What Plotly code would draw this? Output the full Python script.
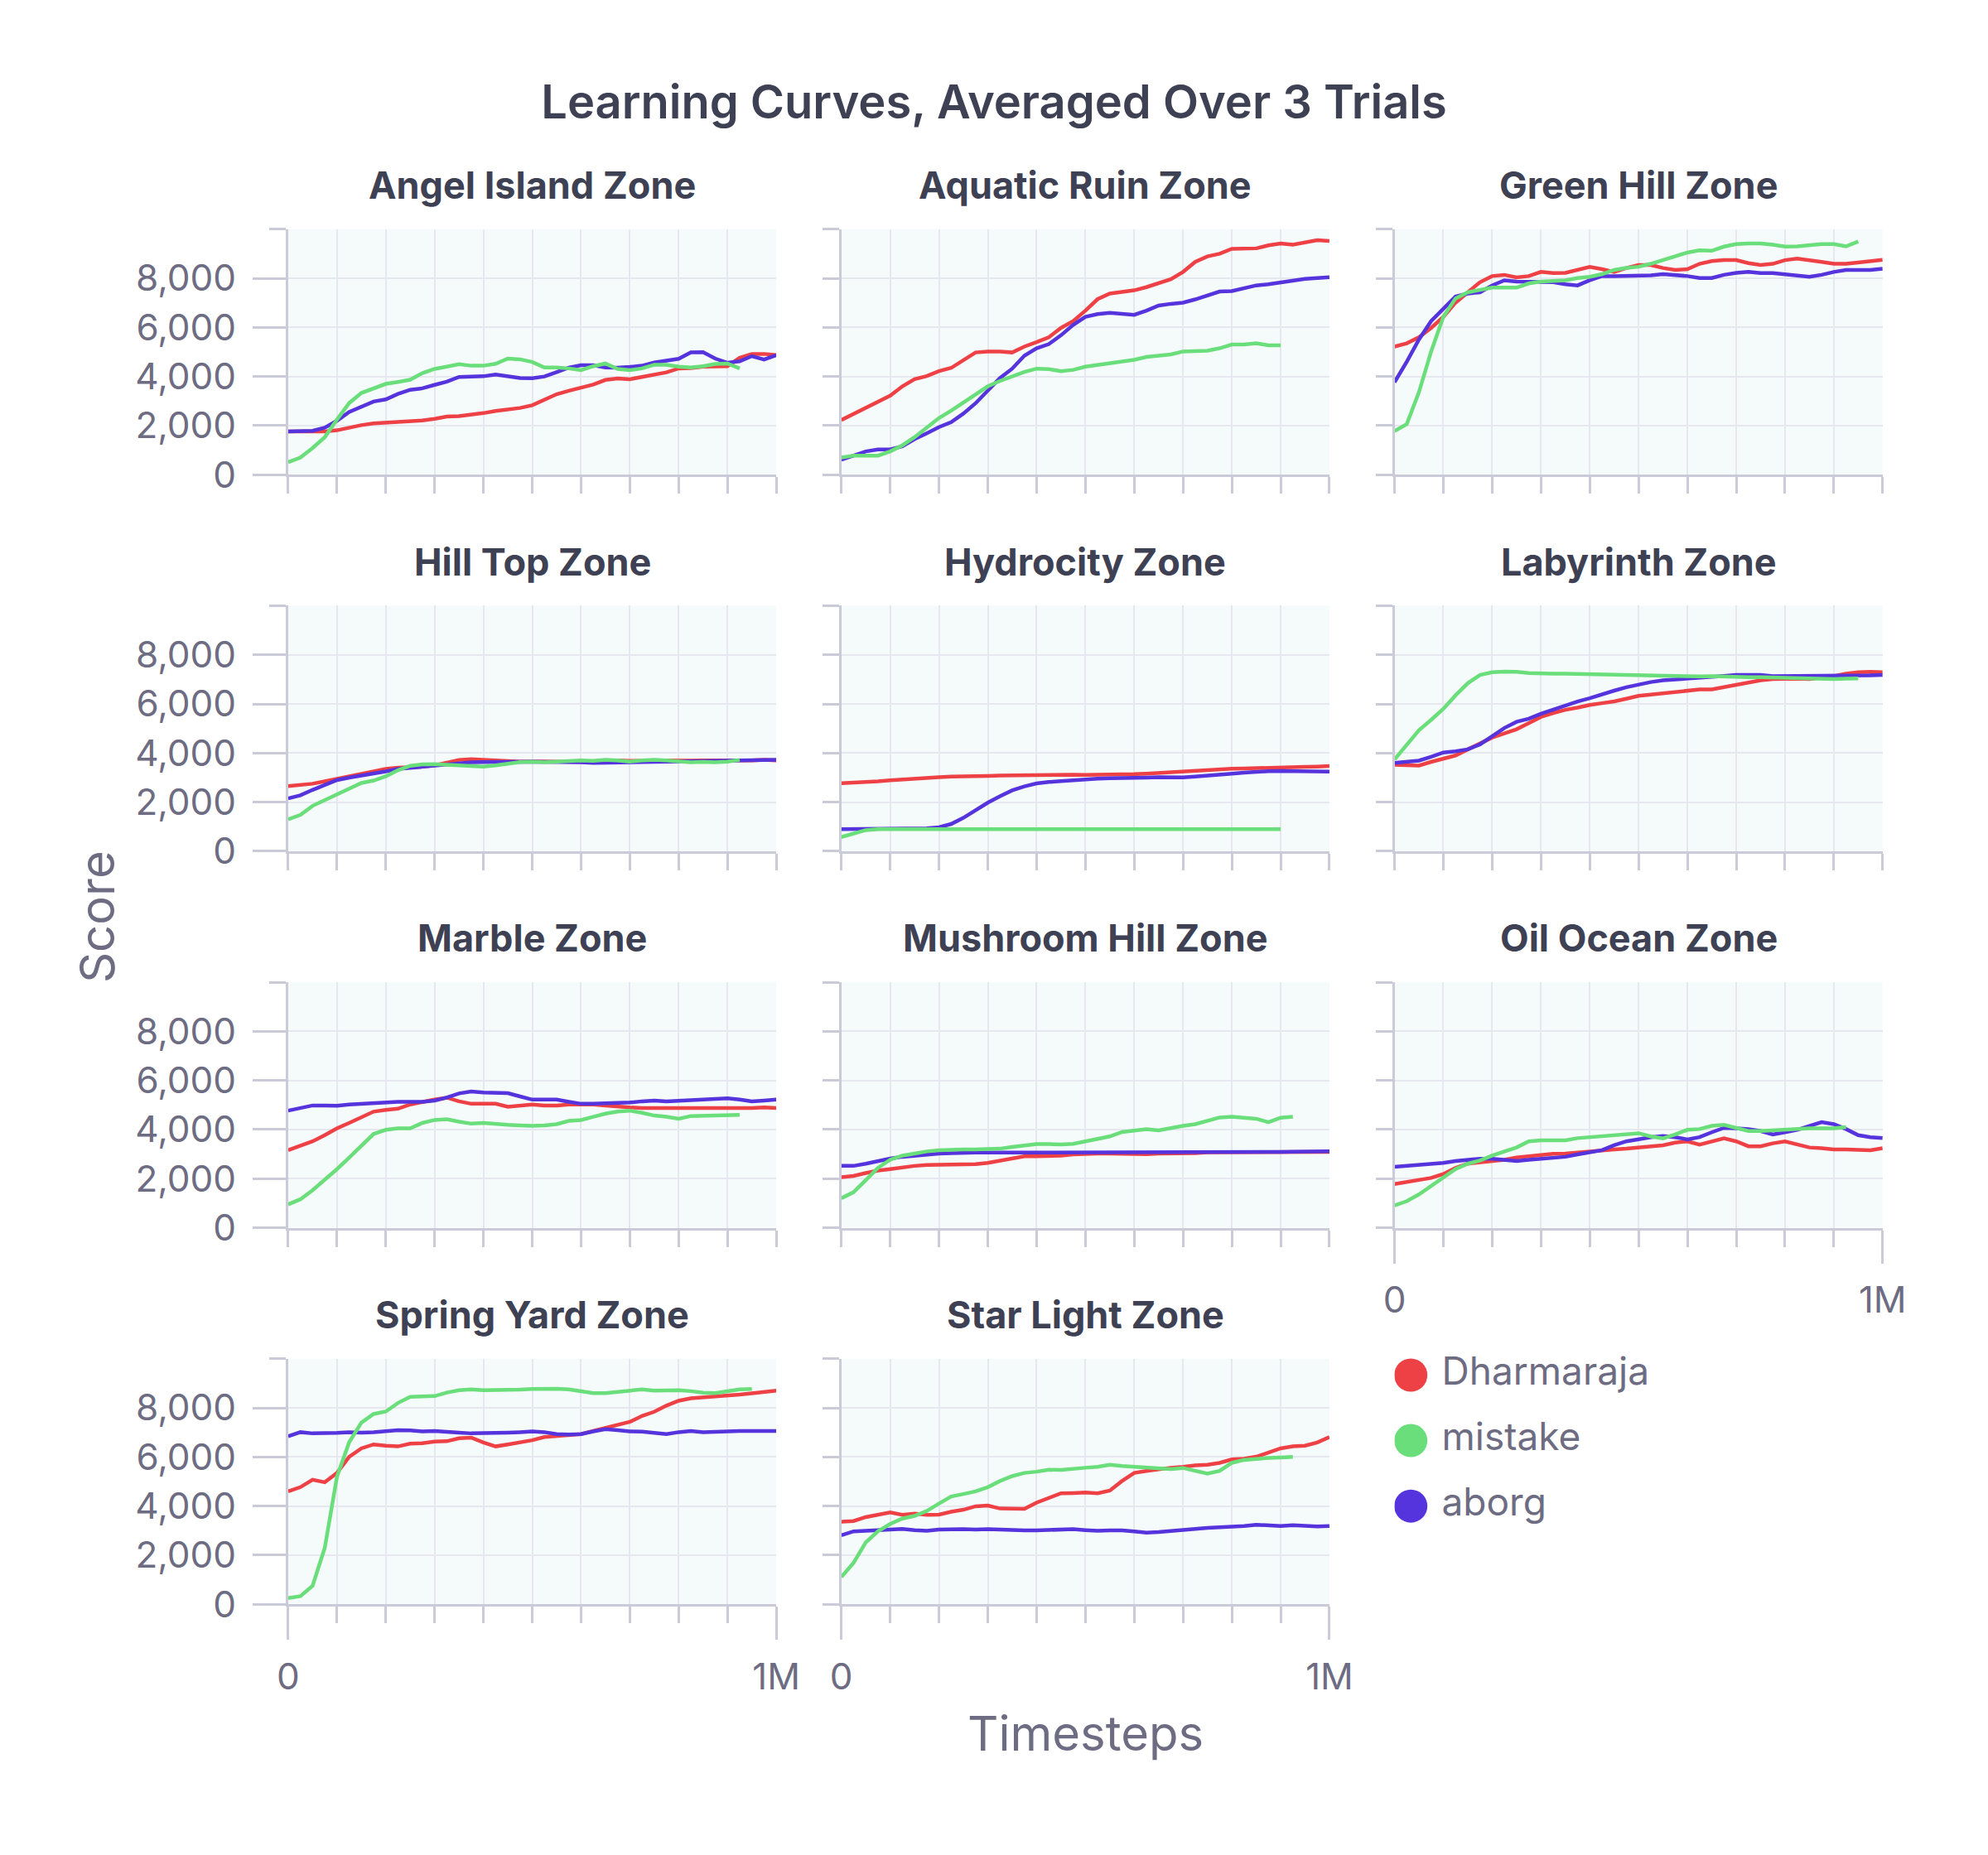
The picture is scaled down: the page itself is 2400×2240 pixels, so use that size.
import plotly.graph_objects as go

# ---------------- data ----------------
STEPS = list(range(0, 1_000_001, 25_000))  # x grid, 25k timesteps apart
X_TICK_VALUES = [0, 1_000_000]
X_TICK_LABELS = ["0", "1M"]
Y_TICK_VALUES = [0, 2000, 4000, 6000, 8000]
Y_MAX = 10000

SERIES = ["Dharmaraja", "mistake", "aborg"]
COLORS = {"Dharmaraja": "#ee4146", "mistake": "#6ade7a", "aborg": "#5533dd"}

ZONES = ["Angel Island Zone", "Aquatic Ruin Zone", "Green Hill Zone",
         "Hill Top Zone", "Hydrocity Zone", "Labyrinth Zone",
         "Marble Zone", "Mushroom Hill Zone", "Oil Ocean Zone",
         "Spring Yard Zone", "Star Light Zone"]

ANGEL_DHARMARAJA = [1760, 1760, 1760, 1760, 1810, 1920, 2020, 2090, 2120, 2160, 2170, 2210, 2280, 2370, 2390, 2440, 2510, 2600, 2660, 2720, 2830, 3060, 3280, 3420, 3530, 3670, 3860, 3920, 3890, 3980, 4070, 4170, 4330, 4340, 4400, 4420, 4420, 4760, 4920, 4920, 4870]
ANGEL_MISTAKE = [510, 700, 1090, 1530, 2250, 2920, 3330, 3530, 3700, 3780, 3870, 4140, 4310, 4400, 4500, 4440, 4440, 4520, 4730, 4700, 4590, 4370, 4370, 4330, 4260, 4420, 4530, 4310, 4260, 4330, 4480, 4480, 4400, 4370, 4420, 4510, 4530, 4330]
ANGEL_ABORG = [1760, 1780, 1790, 1920, 2200, 2560, 2760, 2980, 3070, 3290, 3460, 3520, 3660, 3790, 3980, 3990, 4010, 4080, 4000, 3940, 3930, 4000, 4180, 4360, 4460, 4460, 4370, 4360, 4390, 4440, 4570, 4640, 4720, 4980, 4990, 4730, 4560, 4620, 4830, 4690, 4870]

AQUATIC_DHARMARAJA = [2230, 2470, 2720, 2970, 3220, 3600, 3890, 4020, 4220, 4350, 4680, 4980, 5020, 5020, 4980, 5220, 5400, 5600, 5980, 6260, 6680, 7150, 7380, 7430, 7510, 7640, 7790, 7960, 8260, 8670, 8890, 9000, 9200, 9220, 9220, 9340, 9420, 9370, 9470, 9550, 9520]
AQUATIC_MISTAKE = [700, 780, 780, 780, 950, 1200, 1530, 1940, 2310, 2610, 2940, 3270, 3600, 3820, 4020, 4190, 4320, 4300, 4220, 4270, 4400, 4470, 4520, 4600, 4680, 4800, 4850, 4900, 5020, 5020, 5050, 5150, 5300, 5300, 5350, 5270, 5270]
AQUATIC_ABORG = [610, 780, 950, 1030, 1030, 1160, 1450, 1690, 1940, 2140, 2490, 2910, 3440, 3940, 4320, 4850, 5150, 5320, 5680, 6100, 6430, 6540, 6590, 6560, 6510, 6680, 6890, 6960, 7010, 7140, 7310, 7460, 7480, 7590, 7710, 7760, 7840, 7920, 7980, 8010, 8040]

GREEN_HILL_DHARMARAJA = [5220, 5350, 5600, 5980, 6430, 7010, 7430, 7840, 8090, 8140, 8040, 8090, 8260, 8210, 8220, 8340, 8460, 8370, 8260, 8420, 8540, 8540, 8420, 8340, 8370, 8590, 8700, 8740, 8740, 8620, 8540, 8590, 8740, 8800, 8750, 8670, 8590, 8590, 8640, 8700, 8750]
GREEN_HILL_MISTAKE = [1780, 2060, 3360, 5020, 6430, 7180, 7430, 7540, 7620, 7620, 7620, 7790, 7870, 7890, 7920, 8010, 8060, 8170, 8340, 8420, 8470, 8590, 8750, 8920, 9050, 9140, 9120, 9290, 9390, 9420, 9420, 9370, 9290, 9300, 9340, 9390, 9390, 9300, 9500]
GREEN_HILL_ABORG = [3770, 4600, 5510, 6260, 6760, 7260, 7380, 7430, 7710, 7920, 7870, 7870, 7870, 7840, 7760, 7710, 7920, 8090, 8090, 8090, 8090, 8120, 8170, 8140, 8090, 8010, 8010, 8140, 8220, 8260, 8210, 8210, 8170, 8120, 8060, 8140, 8260, 8340, 8340, 8340, 8390]

HILL_TOP_DHARMARAJA = [2650, 2700, 2750, 2850, 2950, 3050, 3150, 3250, 3350, 3400, 3420, 3450, 3500, 3600, 3720, 3750, 3720, 3680, 3650, 3650, 3660, 3650, 3640, 3650, 3640, 3650, 3680, 3700, 3680, 3670, 3680, 3700, 3680, 3690, 3700, 3700, 3690, 3680, 3700, 3720, 3700]
HILL_TOP_MISTAKE = [1300, 1480, 1850, 2080, 2330, 2580, 2780, 2880, 3050, 3300, 3480, 3540, 3550, 3520, 3500, 3470, 3450, 3500, 3580, 3630, 3650, 3620, 3650, 3680, 3700, 3680, 3720, 3700, 3650, 3700, 3720, 3700, 3650, 3620, 3640, 3620, 3650, 3720]
HILL_TOP_ABORG = [2150, 2280, 2500, 2720, 2900, 3000, 3080, 3150, 3250, 3350, 3400, 3430, 3480, 3550, 3600, 3620, 3630, 3640, 3650, 3640, 3650, 3640, 3640, 3620, 3620, 3600, 3600, 3610, 3620, 3630, 3640, 3650, 3660, 3660, 3670, 3680, 3690, 3700, 3700, 3710, 3720]

HYDROCITY_DHARMARAJA = [2770, 2790, 2810, 2850, 2890, 2930, 2970, 3000, 3020, 3040, 3060, 3070, 3070, 3080, 3090, 3100, 3110, 3120, 3140, 3120, 3110, 3110, 3110, 3120, 3140, 3160, 3190, 3220, 3260, 3280, 3310, 3330, 3360, 3370, 3390, 3400, 3410, 3420, 3440, 3450, 3470]
HYDROCITY_MISTAKE = [580, 730, 860, 900, 900, 900, 900, 900, 900, 900, 900, 900, 900, 900, 900, 900, 900, 900, 900, 900, 900, 900, 900, 900, 900, 900, 900, 900, 900, 900, 900, 900, 900, 900, 900, 900, 900]
HYDROCITY_ABORG = [900, 900, 900, 900, 900, 900, 910, 930, 980, 1110, 1360, 1690, 1980, 2240, 2480, 2640, 2760, 2820, 2860, 2910, 2940, 2960, 2970, 2970, 2970, 3000, 3020, 3010, 3010, 3040, 3070, 3110, 3160, 3200, 3240, 3260, 3270, 3270, 3260, 3250, 3240]

LABYRINTH_DHARMARAJA = [3520, 3520, 3490, 3640, 3770, 3900, 4150, 4390, 4630, 4800, 4970, 5220, 5470, 5630, 5760, 5850, 5960, 6030, 6100, 6210, 6330, 6380, 6430, 6510, 6560, 6590, 6590, 6680, 6790, 6890, 6960, 7010, 7030, 7030, 7010, 7060, 7130, 7230, 7290, 7310, 7290]
LABYRINTH_MISTAKE = [3740, 4350, 4930, 5350, 5800, 6350, 6840, 7180, 7290, 7320, 7310, 7260, 7230, 7230, 7230, 7220, 7210, 7200, 7190, 7170, 7140, 7130, 7130, 7130, 7130, 7120, 7130, 7110, 7090, 7090, 7090, 7080, 7060, 7050, 7040, 7010, 7010, 7030, 7040]
LABYRINTH_ABORG = [3600, 3650, 3690, 3850, 4020, 4070, 4150, 4350, 4680, 5020, 5270, 5400, 5600, 5760, 5960, 6100, 6230, 6400, 6540, 6680, 6790, 6890, 6960, 6990, 7030, 7060, 7090, 7140, 7180, 7180, 7180, 7130, 7130, 7140, 7140, 7140, 7140, 7140, 7150, 7160, 7180]

MARBLE_DHARMARAJA = [3160, 3320, 3520, 3770, 4050, 4270, 4520, 4730, 4800, 4850, 5020, 5130, 5220, 5300, 5150, 5050, 5050, 5050, 4930, 4970, 5020, 4980, 4980, 5020, 5020, 5020, 4980, 4930, 4900, 4880, 4880, 4880, 4880, 4870, 4850, 4850, 4850, 4860, 4880, 4900, 4880]
MARBLE_MISTAKE = [950, 1160, 1530, 1940, 2390, 2860, 3360, 3820, 3990, 4050, 4050, 4270, 4390, 4420, 4320, 4240, 4270, 4220, 4190, 4170, 4150, 4170, 4220, 4350, 4390, 4520, 4650, 4730, 4770, 4680, 4570, 4520, 4440, 4550, 4570, 4570, 4580, 4600]
MARBLE_ABORG = [4770, 4880, 4980, 4980, 4970, 5020, 5050, 5070, 5100, 5130, 5130, 5130, 5180, 5300, 5470, 5550, 5510, 5480, 5480, 5350, 5220, 5220, 5220, 5130, 5050, 5050, 5070, 5070, 5100, 5150, 5180, 5150, 5180, 5180, 5230, 5270, 5270, 5220, 5150, 5180, 5220]

MUSHROOM_DHARMARAJA = [2060, 2110, 2230, 2330, 2390, 2460, 2520, 2560, 2570, 2570, 2570, 2590, 2640, 2720, 2810, 2910, 2910, 2910, 2940, 2990, 3020, 3020, 3020, 3010, 2990, 3000, 3020, 3020, 3020, 3040, 3070, 3070, 3060, 3060, 3070, 3070, 3070, 3080, 3080, 3090, 3090]
MUSHROOM_MISTAKE = [1200, 1450, 1940, 2440, 2770, 2940, 3020, 3110, 3160, 3190, 3190, 3190, 3190, 3220, 3290, 3360, 3410, 3410, 3390, 3420, 3520, 3600, 3720, 3900, 3970, 4020, 3970, 4070, 4150, 4220, 4350, 4490, 4520, 4490, 4440, 4300, 4480, 4520]
MUSHROOM_ABORG = [2520, 2520, 2610, 2720, 2820, 2890, 2940, 2990, 3020, 3040, 3060, 3060, 3060, 3060, 3060, 3060, 3060, 3060, 3060, 3060, 3060, 3070, 3090, 3080, 3070, 3060, 3060, 3060, 3070, 3080, 3090, 3090, 3090, 3080, 3070, 3080, 3090, 3100, 3110, 3110, 3110]

OIL_OCEAN_DHARMARAJA = [1780, 1860, 1940, 2030, 2190, 2440, 2610, 2660, 2720, 2770, 2860, 2910, 2970, 3010, 3020, 3070, 3110, 3160, 3190, 3220, 3260, 3290, 3360, 3470, 3520, 3390, 3520, 3640, 3520, 3320, 3320, 3440, 3520, 3390, 3270, 3240, 3190, 3190, 3160, 3160, 3240]
OIL_OCEAN_MISTAKE = [910, 1080, 1360, 1690, 2030, 2390, 2610, 2740, 2940, 3110, 3270, 3520, 3560, 3560, 3560, 3650, 3690, 3720, 3770, 3800, 3850, 3720, 3640, 3800, 3990, 4020, 4150, 4190, 4050, 3940, 3940, 3970, 3990, 4020, 4050, 4050, 4050, 4100]
OIL_OCEAN_ABORG = [2480, 2520, 2560, 2610, 2640, 2720, 2770, 2810, 2810, 2770, 2720, 2770, 2820, 2860, 2890, 2990, 3070, 3160, 3360, 3520, 3600, 3690, 3740, 3690, 3600, 3690, 3890, 4070, 4050, 4020, 3940, 3800, 3890, 3990, 4150, 4300, 4220, 4020, 3770, 3690, 3650]

SPRING_YARD_DHARMARAJA = [4600, 4770, 5070, 4970, 5350, 6010, 6350, 6510, 6460, 6430, 6540, 6560, 6630, 6640, 6760, 6790, 6590, 6430, 6510, 6590, 6680, 6810, 6840, 6880, 6930, 7060, 7180, 7310, 7430, 7670, 7840, 8090, 8290, 8390, 8420, 8470, 8510, 8540, 8590, 8640, 8700]
SPRING_YARD_MISTAKE = [250, 330, 750, 2300, 5200, 6600, 7400, 7750, 7850, 8200, 8450, 8480, 8480, 8620, 8720, 8750, 8720, 8730, 8720, 8740, 8770, 8780, 8780, 8750, 8680, 8600, 8600, 8650, 8730, 8750, 8700, 8700, 8720, 8680, 8620, 8600, 8680, 8750, 8770]
SPRING_YARD_ABORG = [6840, 7010, 6960, 6960, 6980, 7010, 6990, 7010, 7060, 7090, 7080, 7040, 7060, 7040, 6990, 6960, 6960, 6960, 6990, 7010, 7040, 7010, 6930, 6910, 6930, 7040, 7130, 7090, 7040, 7030, 6980, 6930, 7010, 7060, 7010, 7010, 7040, 7060, 7060, 7060, 7060]

STAR_LIGHT_DHARMARAJA = [3360, 3390, 3550, 3650, 3740, 3640, 3690, 3640, 3650, 3770, 3850, 3990, 4020, 3900, 3900, 3890, 4140, 4350, 4520, 4530, 4550, 4520, 4630, 5020, 5350, 5430, 5510, 5560, 5600, 5660, 5680, 5760, 5900, 5930, 6010, 6180, 6350, 6430, 6460, 6590, 6810]
STAR_LIGHT_MISTAKE = [1110, 1690, 2520, 2970, 3270, 3490, 3600, 3800, 4100, 4390, 4490, 4600, 4770, 5020, 5220, 5350, 5400, 5480, 5470, 5500, 5560, 5600, 5680, 5630, 5600, 5560, 5550, 5510, 5550, 5430, 5320, 5430, 5760, 5880, 5930, 5960, 5980, 6000]
STAR_LIGHT_ABORG = [2810, 2970, 2990, 3010, 3020, 3070, 3020, 2990, 3040, 3060, 3060, 3040, 3060, 3040, 3010, 3010, 3010, 3020, 3060, 3060, 3020, 2990, 3010, 3010, 2970, 2920, 2940, 2990, 3040, 3070, 3110, 3140, 3160, 3190, 3240, 3220, 3190, 3220, 3190, 3170, 3190]

ZONE_DATA = {
    "Angel Island Zone": (ANGEL_DHARMARAJA, ANGEL_MISTAKE, ANGEL_ABORG),
    "Aquatic Ruin Zone": (AQUATIC_DHARMARAJA, AQUATIC_MISTAKE, AQUATIC_ABORG),
    "Green Hill Zone": (GREEN_HILL_DHARMARAJA, GREEN_HILL_MISTAKE, GREEN_HILL_ABORG),
    "Hill Top Zone": (HILL_TOP_DHARMARAJA, HILL_TOP_MISTAKE, HILL_TOP_ABORG),
    "Hydrocity Zone": (HYDROCITY_DHARMARAJA, HYDROCITY_MISTAKE, HYDROCITY_ABORG),
    "Labyrinth Zone": (LABYRINTH_DHARMARAJA, LABYRINTH_MISTAKE, LABYRINTH_ABORG),
    "Marble Zone": (MARBLE_DHARMARAJA, MARBLE_MISTAKE, MARBLE_ABORG),
    "Mushroom Hill Zone": (MUSHROOM_DHARMARAJA, MUSHROOM_MISTAKE, MUSHROOM_ABORG),
    "Oil Ocean Zone": (OIL_OCEAN_DHARMARAJA, OIL_OCEAN_MISTAKE, OIL_OCEAN_ABORG),
    "Spring Yard Zone": (SPRING_YARD_DHARMARAJA, SPRING_YARD_MISTAKE, SPRING_YARD_ABORG),
    "Star Light Zone": (STAR_LIGHT_DHARMARAJA, STAR_LIGHT_MISTAKE, STAR_LIGHT_ABORG),
}

# ---------------- layout constants (pixels) ----------------
W, H = 2400, 2240
COL_LEFT = [340, 1020, 1700]
ROW_TOP = [280, 740, 1200, 1660]
PW, PH = 600, 300

FONT = "Inter"
TITLE_COLOR = "#3e4153"
TICK_COLOR = "#6d6c82"
AXIS_COLOR = "#cbcad8"
GRID_COLOR = "#e7e7ef"
PLOT_BG = "#f5fbfb"

fig = go.Figure()


def px_x(v):
    return v / W


def px_y(v):
    return 1 - v / H


draw_order = [0, 2, 1]  # Dharmaraja, aborg, mistake (mistake drawn on top)
annotations = []
shapes = []
n = len(ZONES)
for k, zone in enumerate(ZONES):
    r, c = divmod(k, 3)
    idx = k + 1
    xa = "x" if idx == 1 else f"x{idx}"
    ya = "y" if idx == 1 else f"y{idx}"
    values = ZONE_DATA[zone]
    for si in draw_order:
        name = SERIES[si]
        ys = values[si]
        fig.add_trace(go.Scatter(
            x=STEPS[:len(ys)], y=ys, mode="lines", name=name,
            line=dict(color=COLORS[name], width=4.5),
            xaxis=xa, yaxis=ya, showlegend=False,
        ))
    bottom = (k + 3) >= n   # lowest panel in its column
    left = c == 0
    xkey = "xaxis" if idx == 1 else f"xaxis{idx}"
    ykey = "yaxis" if idx == 1 else f"yaxis{idx}"
    x0 = COL_LEFT[c]
    y0 = ROW_TOP[r]
    fig.layout[xkey] = dict(
        domain=[px_x(x0), px_x(x0 + PW)], anchor=ya, range=[0, STEPS[-1]],
        tickmode="array", tickvals=X_TICK_VALUES, ticktext=X_TICK_LABELS,
        showticklabels=bottom, ticks="outside", ticklen=40 if bottom else 20,
        tickwidth=3, tickcolor=AXIS_COLOR, ticklabelstandoff=7,
        showline=True, linecolor=AXIS_COLOR, linewidth=3,
        showgrid=True, gridcolor=GRID_COLOR, gridwidth=2, zeroline=False,
        tickfont=dict(family=FONT, size=44, color=TICK_COLOR),
        minor=dict(tickmode="array", tickvals=STEPS[4:-1:4], ticks="outside",
                   ticklen=20, tickwidth=3, tickcolor=AXIS_COLOR,
                   showgrid=True, gridcolor=GRID_COLOR, gridwidth=2),
        fixedrange=True,
    )
    fig.layout[ykey] = dict(
        domain=[px_y(y0 + PH), px_y(y0)], anchor=xa, range=[0, Y_MAX],
        tickmode="array", tickvals=Y_TICK_VALUES, tickformat=",",
        showticklabels=left, ticks="outside", ticklen=40 if left else 20,
        tickwidth=3, tickcolor=AXIS_COLOR, ticklabelstandoff=11,
        showline=True, linecolor=AXIS_COLOR, linewidth=3,
        showgrid=True, gridcolor=GRID_COLOR, gridwidth=2, zeroline=False,
        tickfont=dict(family=FONT, size=44, color=TICK_COLOR),
        minor=dict(tickmode="array", tickvals=[Y_MAX], ticks="outside",
                   ticklen=20, tickwidth=3, tickcolor=AXIS_COLOR,
                   showgrid=True, gridcolor=GRID_COLOR, gridwidth=2),
        fixedrange=True,
    )
    shapes.append(dict(
        type="rect", xref=f"{xa} domain", yref=f"{ya} domain",
        x0=0, x1=1, y0=0, y1=1, fillcolor=PLOT_BG, line=dict(width=0), layer="below",
    ))
    annotations.append(dict(
        text=zone, xref="paper", yref="paper",
        x=px_x(x0 + PW / 2), y=px_y(y0 - 54), xanchor="center", yanchor="middle",
        showarrow=False, font=dict(family=FONT, size=45, color=TITLE_COLOR, weight=700),
    ))

# custom legend with large circular markers
LEG = 12
fig.add_trace(go.Scatter(
    x=[0] * len(SERIES), y=SERIES, mode="markers",
    marker=dict(size=40, color=[COLORS[s] for s in SERIES]),
    xaxis=f"x{LEG}", yaxis=f"y{LEG}", showlegend=False, hoverinfo="skip",
))
fig.add_trace(go.Scatter(
    x=[1.9] * len(SERIES), y=SERIES, mode="text", text=SERIES,
    textposition="middle right", cliponaxis=False,
    textfont=dict(family=FONT, size=46, color=TICK_COLOR),
    xaxis=f"x{LEG}", yaxis=f"y{LEG}", showlegend=False, hoverinfo="skip",
))
fig.layout[f"xaxis{LEG}"] = dict(domain=[px_x(1700), px_x(1760)], range=[-1, 2],
                                  visible=False, anchor=f"y{LEG}", fixedrange=True)
fig.layout[f"yaxis{LEG}"] = dict(domain=[px_y(1880), px_y(1640)], type="category",
                                  range=[len(SERIES) - 0.5, -0.5], visible=False,
                                  anchor=f"x{LEG}", fixedrange=True)

annotations.append(dict(
    text="Score", xref="paper", yref="paper", x=px_x(105), y=px_y(1120),
    xanchor="center", yanchor="middle", textangle=-90, showarrow=False,
    font=dict(family=FONT, size=58, color=TICK_COLOR),
))
annotations.append(dict(
    text="Timesteps", xref="paper", yref="paper", x=px_x(1320), y=px_y(2118),
    xanchor="center", yanchor="middle", showarrow=False,
    font=dict(family=FONT, size=58, color=TICK_COLOR),
))

fig.update_layout(
    width=W, height=H, margin=dict(l=0, r=0, t=0, b=0),
    paper_bgcolor="white", plot_bgcolor="rgba(0,0,0,0)", showlegend=False,
    title=dict(text="Learning Curves, Averaged Over 3 Trials", x=0.5, y=px_y(123),
               xanchor="center", yanchor="middle",
               font=dict(family=FONT, size=56, color=TITLE_COLOR, weight=600)),
    annotations=annotations,
    shapes=shapes,
    font=dict(family=FONT, color=TICK_COLOR),
)

fig.write_html(
    "out.html",
    config={"displayModeBar": False, "staticPlot": True},
    post_script=("document.documentElement.style.margin='0';"
                 "document.body.style.margin='0';document.body.style.padding='0';"
                 "document.documentElement.style.overflow='hidden';"
                 "document.body.style.overflow='hidden';"),
)
